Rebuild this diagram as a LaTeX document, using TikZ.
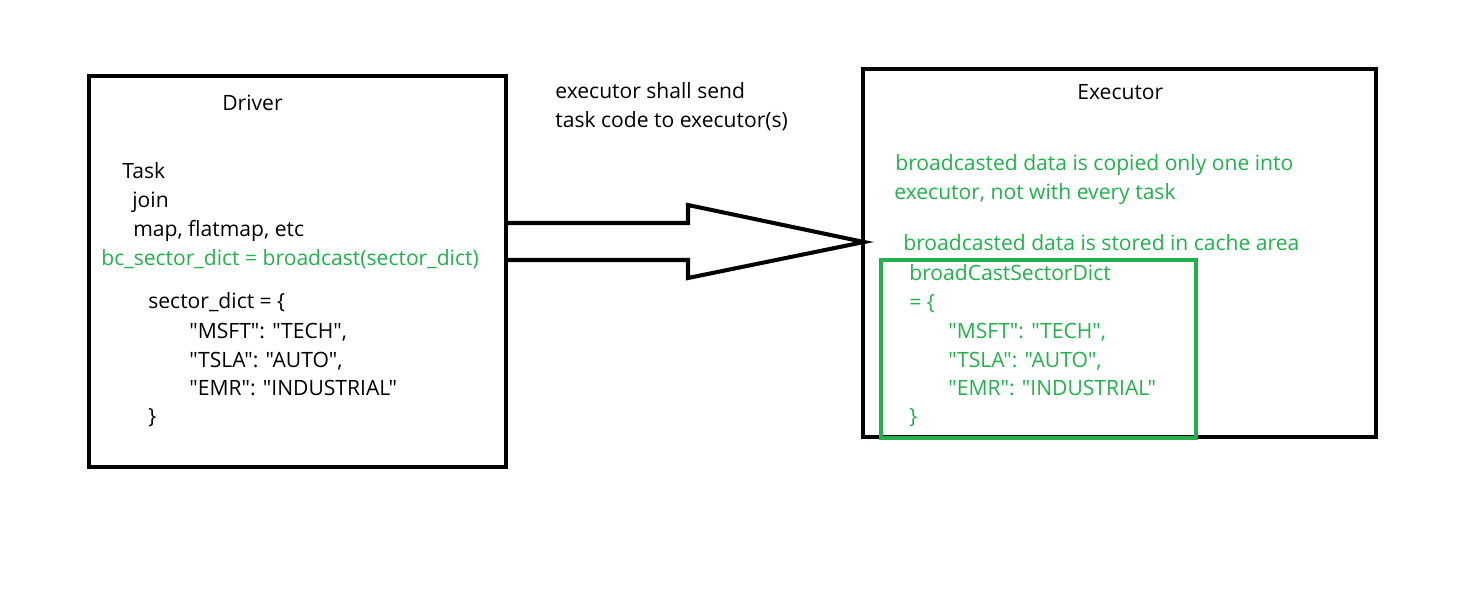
\documentclass[tikz,border=0pt]{standalone}
\usepackage{fontspec}
\setmainfont{Open Sans}[Ligatures=TeXOff]
\usetikzlibrary{fit,calc}
\definecolor{pgreen}{RGB}{34,177,76}
\newcommand{\qq}{\symbol{34}}
\tikzset{
  box/.style={draw=black, line width=2.3pt, inner sep=0pt},
  gbox/.style={draw=pgreen, line width=2.3pt, inner sep=0pt},
  txt/.style={anchor=base west, inner sep=0pt, font=\fontsize{12}{14}\selectfont},
  gtxt/.style={txt, text=pgreen},
}
\begin{document}
\begin{tikzpicture}[x=0.02cm, y=-0.02cm]
\useasboundingbox (0,0) rectangle (1483,600);
% boxes
\coordinate (d1) at (89,76); \coordinate (d2) at (506,467);
\node[box, fit=(d1)(d2)] (driver) {};
\coordinate (e1) at (863,69); \coordinate (e2) at (1376,437);
\node[box, fit=(e1)(e2)] (executor) {};
\coordinate (g1) at (881,260); \coordinate (g2) at (1196,438);
\node[gbox, fit=(g1)(g2)] (cache) {};
% arrow
\coordinate (tip) at ($(executor.west |- 0,242)+(3,0)$);
\draw[line width=2.3pt, line join=miter]
  ($(driver.east |- 0,223)$) -- (688,223) -- (688,205) -- (tip)
  -- (688,278) -- (688,260) -- ($(driver.east |- 0,260)$);
% driver texts
\node[txt] (dT) at (222,110) {Driver};
\node[txt] (t1) at (122,178) {Task};
\node[txt] (t2) at (132,207) {join};
\node[txt] (t3) at (133,236) {map, flatmap, etc};
\node[gtxt] (t4) at (101,265) {bc\_sector\_dict = broadcast(sector\_dict)};
\node[txt] (t5) at (148,308) {sector\_dict = \{};
\node[txt] (t6) at (189,338) {\qq MSFT\qq: \qq TECH\qq,};
\node[txt] (t7) at (189,367) {\qq TSLA\qq: \qq AUTO\qq,};
\node[txt] (t8) at (189,395) {\qq EMR\qq: \qq INDUSTRIAL\qq};
\node[txt] (t9) at (148,423) {\}};
% middle label
\node[txt] (m1) at (555,98) {executor shall send};
\node[txt] (m2) at (555,127) {task code to executor(s)};
% executor texts
\node[txt] (eT) at (1077,99) {Executor};
\node[gtxt] (e1t) at (895,170) {broadcasted data is copied only one into};
\node[gtxt] (e2t) at (894,199) {executor, not with every task};
\node[gtxt] (e3t) at (903,250) {broadcasted data is stored in cache area};
\node[gtxt] (c1) at (909,280) {broadCastSectorDict};
\node[gtxt] (c2) at (909,309) {= \{};
\node[gtxt] (c3) at (948,338) {\qq MSFT\qq: \qq TECH\qq,};
\node[gtxt] (c4) at (948,367) {\qq TSLA\qq: \qq AUTO\qq,};
\node[gtxt] (c5) at (948,395) {\qq EMR\qq: \qq INDUSTRIAL\qq};
\node[gtxt] (c6) at (909,423) {\}};
\end{tikzpicture}
\end{document}
